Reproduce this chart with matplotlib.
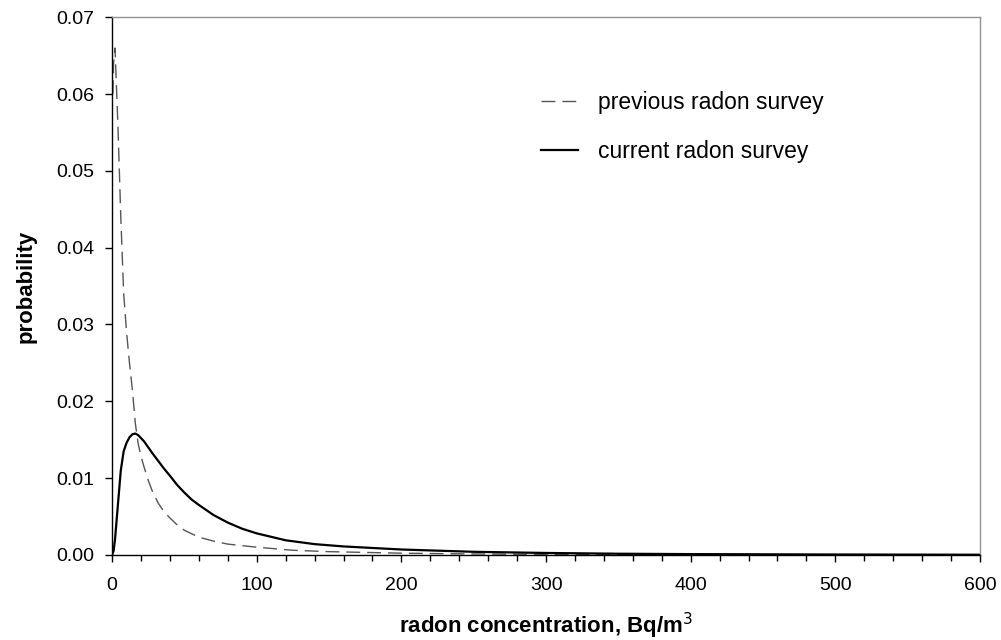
import matplotlib
matplotlib.use('Agg')
import matplotlib.pyplot as plt

plt.rcParams['font.family'] = ['Liberation Sans', 'DejaVu Sans']

# previous survey (dashed)
x_prev = [0.5, 1, 2, 3, 4, 5, 6, 7, 8, 10, 12, 14, 16, 18, 20, 22, 25, 28, 32,
          36, 40, 45, 50, 60, 70, 80, 100, 125, 150, 200, 250, 300, 400, 500, 600]
p_prev = [0.060, 0.064, 0.066, 0.061, 0.056, 0.050, 0.044, 0.039, 0.034, 0.029,
          0.025, 0.0215, 0.0172, 0.0145, 0.0128, 0.0115, 0.0097, 0.0082, 0.0067,
          0.0056, 0.0048, 0.0039, 0.0032, 0.0023, 0.0018, 0.0014, 0.0010,
          0.0006, 0.00042, 0.00022, 0.00012, 0.00007, 0.00003, 0.00001, 0.0]

# current survey (solid)
x_cur = [0, 1, 2, 4, 6, 8, 10, 12, 14, 16, 18, 20, 22, 25, 28, 32, 36, 40, 45,
         50, 55, 60, 70, 80, 90, 100, 120, 140, 160, 200, 250, 300, 350, 400,
         500, 600]
p_cur = [0.0, 0.0005, 0.002, 0.0065, 0.0110, 0.0135, 0.0146, 0.0153, 0.0157,
         0.0158, 0.0156, 0.0152, 0.0148, 0.0140, 0.0132, 0.0122, 0.0112, 0.0103,
         0.0091, 0.0081, 0.0072, 0.0065, 0.0052, 0.0042, 0.0034, 0.0028,
         0.0019, 0.0014, 0.0011, 0.0007, 0.0004, 0.00025, 0.00015, 0.0001,
         0.00005, 0.00002]

fig = plt.figure(figsize=(10.01, 6.4), dpi=100)
ax = fig.add_axes([0.112, 0.133, 0.867, 0.84])

ax.plot(x_prev, p_prev, color='#555555', lw=1.0, dashes=(10, 5),
        label='previous radon survey')
ax.plot(x_cur, p_cur, color='black', lw=1.6, label='current radon survey')

ax.set_xlim(0, 600)
ax.set_ylim(0, 0.07)
ax.set_xticks(range(0, 601, 100))
ax.set_xticks(range(0, 601, 20), minor=True)
ax.set_yticks([i / 100 for i in range(8)])
ax.set_yticklabels(['%.2f' % (i / 100) for i in range(8)])

ax.tick_params(axis='both', which='major', length=5, width=1, labelsize=14,
               direction='out')
ax.tick_params(axis='x', which='minor', length=4, width=1, direction='out')
ax.tick_params(axis='x', pad=11)
ax.tick_params(axis='y', pad=8)

for s in ['left', 'bottom']:
    ax.spines[s].set_color('black')
    ax.spines[s].set_linewidth(1.0)
for s in ['top', 'right']:
    ax.spines[s].set_color('#909090')
    ax.spines[s].set_linewidth(1.0)

ax.set_xlabel('radon concentration, Bq/m$^3$', fontsize=16, fontweight='bold',
              labelpad=12)
ax.set_ylabel('probability', fontsize=16, fontweight='bold', labelpad=14)

leg = ax.legend(loc='upper left', bbox_to_anchor=(0.47, 0.902), frameon=False,
                fontsize=16.5, handlelength=1.65, handletextpad=0.87,
                labelspacing=1.15)

fig.savefig('out.png', dpi=100)
